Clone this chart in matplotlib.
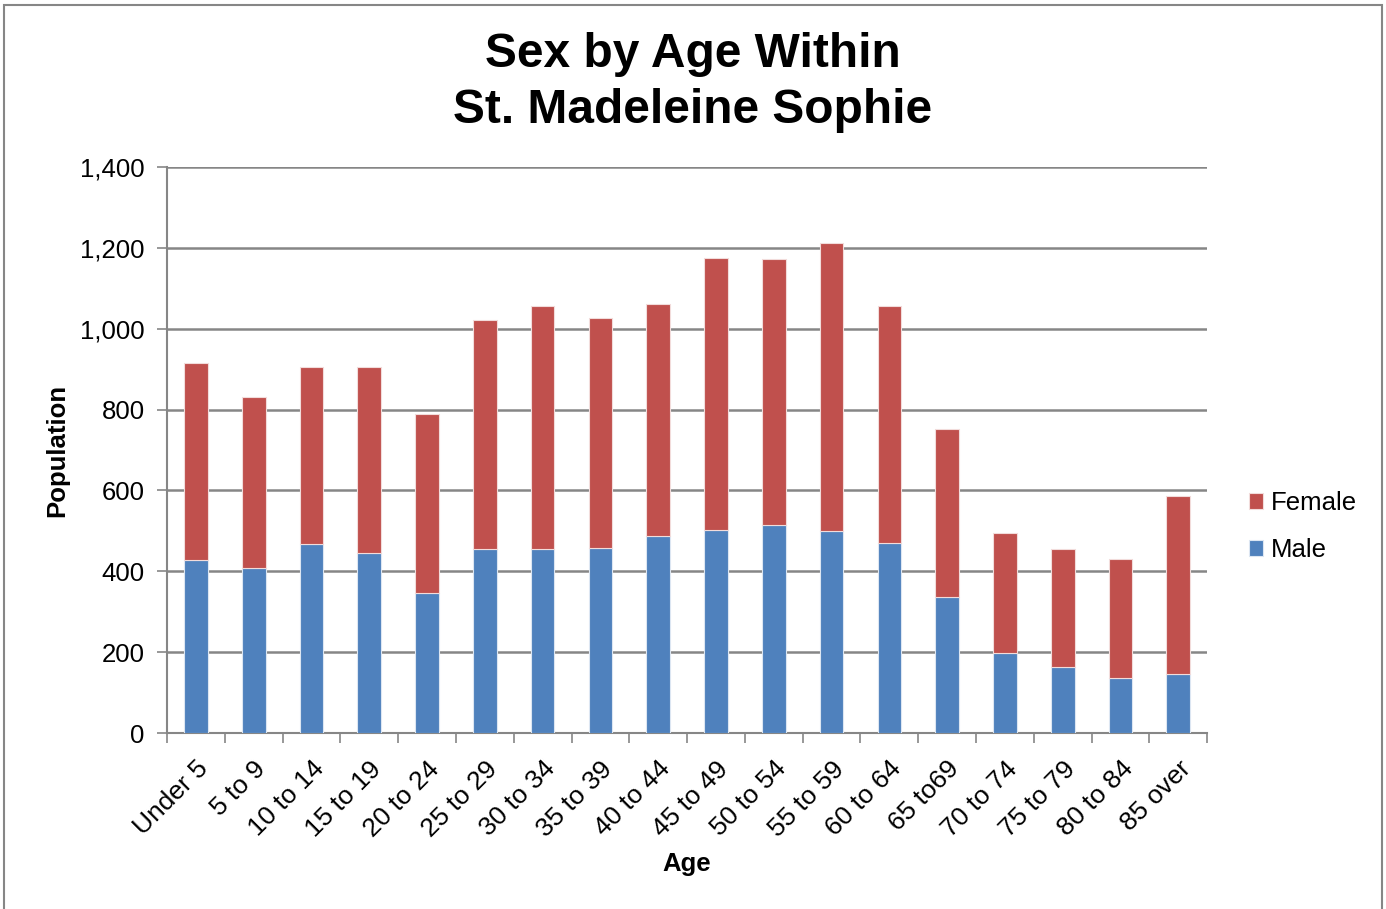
import matplotlib
matplotlib.use("Agg")
import matplotlib.pyplot as plt
import numpy as np
from matplotlib.patches import Rectangle

age_groups = ["Under 5", "5 to 9", "10 to 14", "15 to 19", "20 to 24", "25 to 29",
              "30 to 34", "35 to 39", "40 to 44", "45 to 49", "50 to 54", "55 to 59",
              "60 to 64", "65 to69", "70 to 74", "75 to 79", "80 to 84", "85 over"]
male = [427, 407, 468, 446, 347, 455, 455, 457, 488, 502, 515, 500, 471, 337, 199, 163, 137, 147]
total = [915, 832, 906, 906, 789, 1021, 1056, 1026, 1062, 1176, 1172, 1213, 1055, 753, 494, 455, 431, 586]
female = [t - m for t, m in zip(total, male)]

y_ticks = [0, 200, 400, 600, 800, 1000, 1200, 1400]

plt.rcParams['font.family'] = ['Liberation Sans', 'DejaVu Sans']

fig = plt.figure(figsize=(13.86, 9.09), dpi=100)
ax = fig.add_axes([0.1205, 0.1936, 0.7505, 0.6227])

x = np.arange(len(age_groups))
blue = "#4F81BD"
red = "#C0504D"
ax.bar(x, male, width=0.41, color=blue, edgecolor="#dce6f2", linewidth=0.8, label="Male", zorder=3)
ax.bar(x, female, width=0.41, bottom=male, color=red, edgecolor="#f2dcdb", linewidth=0.8,
       label="Female", zorder=3)

ax.set_xlim(-0.5, len(age_groups) - 0.5)
ax.set_ylim(0, 1400)
ax.set_yticks(y_ticks)
ax.set_yticklabels([f"{v:,}" for v in y_ticks], fontsize=18.5)
ax.yaxis.grid(True, color="#868686", linewidth=1.8, zorder=0)
ax.tick_params(axis="y", length=7, width=1.2, color="#868686", pad=9)

# category ticks between bars, labels at bar centers
ax.set_xticks(np.arange(len(age_groups) + 1) - 0.5)
ax.set_xticklabels([])
ax.set_xticks(x, minor=True)
ax.set_xticklabels(age_groups, minor=True, rotation=45, ha="right", rotation_mode="anchor",
                   fontsize=19)
ax.tick_params(axis="x", which="major", length=7, width=1.2, color="#868686")
ax.tick_params(axis="x", which="minor", length=0, pad=17)

for side in ["top", "right"]:
    ax.spines[side].set_visible(False)
for side in ["left", "bottom"]:
    ax.spines[side].set_color("#868686")
    ax.spines[side].set_linewidth(1.5)

ax.set_ylabel("Population", fontsize=18.5, fontweight="bold", labelpad=8)
ax.set_xlabel("Age", fontsize=18.5, fontweight="bold", labelpad=8)

fig.text(0.5, 0.909, "Sex by Age Within\nSt. Madeleine Sophie", ha="center", va="center",
         fontsize=34.5, fontweight="bold", linespacing=1.3)

handles, labels = ax.get_legend_handles_labels()
ax.legend(handles[::-1], labels[::-1], loc="center left", bbox_to_anchor=(1.03, 0.365),
          frameon=False, fontsize=18.5, handlelength=0.55, handleheight=0.55,
          handletextpad=0.3, labelspacing=0.9, borderaxespad=0)

fig.patches.append(Rectangle((0.003, -0.01), 0.994, 1.005, transform=fig.transFigure,
                             fill=False, edgecolor="#868686", linewidth=1.5))

fig.savefig("out.png", dpi=100)
